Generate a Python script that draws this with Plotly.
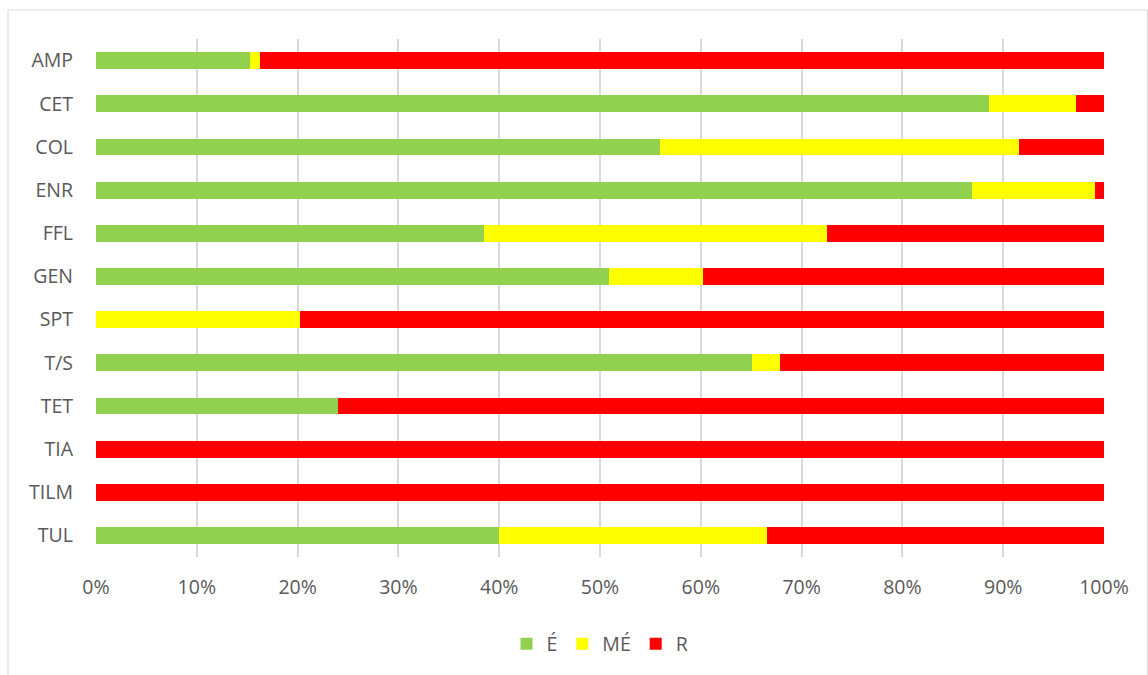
import plotly.graph_objects as go

categories = ["AMP", "CET", "COL", "ENR", "FFL", "GEN", "SPT", "T/S", "TET", "TIA", "TILM", "TUL"]
e_vals = [15.3, 88.6, 56.0, 86.9, 38.5, 50.9, 0.0, 65.1, 24.0, 0.0, 0.0, 40.0]
me_vals = [1.0, 8.6, 35.6, 12.2, 34.0, 9.3, 20.2, 2.8, 0.0, 0.0, 0.0, 26.6]
r_vals = [round(100 - a - b, 1) for a, b in zip(e_vals, me_vals)]
series_names = ["É", "MÉ", "R"]
colors = ["#92D050", "#FFFF00", "#FF0000"]
tick_vals = [0, 10, 20, 30, 40, 50, 60, 70, 80, 90, 100]
tick_text = ["0%", "10%", "20%", "30%", "40%", "50%", "60%", "70%", "80%", "90%", "100%"]

fig = go.Figure()
for name, vals, col in zip(series_names, [e_vals, me_vals, r_vals], colors):
    fig.add_trace(go.Bar(
        y=categories, x=vals, name=name, orientation="h",
        marker=dict(color=col, line=dict(width=0)),
        hovertemplate="%{y}: %{x}%<extra>" + name + "</extra>",
    ))

font_family = "Open Sans, Liberation Sans, sans-serif"
fsize = 19.5
fig.update_layout(
    barmode="stack",
    bargap=0.61,
    width=1148, height=675,
    margin=dict(l=96, r=44, t=39, b=117),
    paper_bgcolor="white",
    plot_bgcolor="white",
    font=dict(family=font_family, size=fsize, color="#595959"),
    xaxis=dict(
        range=[0, 100], tickvals=tick_vals, ticktext=tick_text,
        showgrid=True, gridcolor="#D9D9D9", gridwidth=1.5,
        zeroline=False, showline=False, ticks="",
        ticklabelstandoff=16,
        tickfont=dict(size=fsize, color="#595959"),
        fixedrange=True,
    ),
    yaxis=dict(
        autorange="reversed", showgrid=False, zeroline=False,
        showline=False, ticks="", ticklabelstandoff=22,
        tickfont=dict(size=fsize, color="#595959"),
        fixedrange=True,
    ),
    legend=dict(
        orientation="h", x=0.5, xanchor="center", y=-0.166, yanchor="middle",
        font=dict(size=fsize, color="#595959"), traceorder="normal",
        itemwidth=30,
    ),
    shapes=[dict(
        type="rect", xref="paper", yref="paper",
        x0=-0.0873, x1=1.0432, y0=-0.26, y1=1.0559,
        line=dict(color="#D9D9D9", width=1), fillcolor="rgba(0,0,0,0)",
        layer="below",
    )],
)

fig.write_html("out.html")
